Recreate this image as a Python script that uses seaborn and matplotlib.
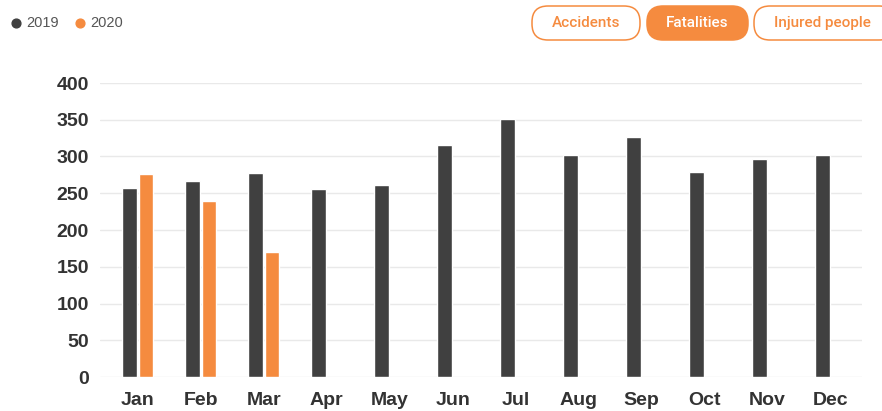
import matplotlib
matplotlib.use('Agg')
import matplotlib.pyplot as plt
from matplotlib.patches import FancyBboxPatch
import seaborn as sns
import pandas as pd

months = ['Jan', 'Feb', 'Mar', 'Apr', 'May', 'Jun', 'Jul', 'Aug', 'Sep', 'Oct', 'Nov', 'Dec']
fatalities_2019 = [257, 267, 278, 256, 261, 316, 351, 302, 327, 279, 296, 302]
fatalities_2020 = [276, 239, 170]
years = ['2019', '2020']
colors = ['#404040', '#F58B3F']
buttons = ['Accidents', 'Fatalities', 'Injured people']

rows = [(m, '2019', v) for m, v in zip(months, fatalities_2019)]
rows += [(m, '2020', v) for m, v in zip(months, fatalities_2020)]
df = pd.DataFrame(rows, columns=['month', 'year', 'value'])

sns.set_style('white')
plt.rcParams['font.family'] = ['Liberation Sans', 'DejaVu Sans']

fig = plt.figure(figsize=(8.82, 4.11), dpi=100)
ax = fig.add_axes([100 / 882, 34 / 411, 762 / 882, 294 / 411])

sns.barplot(data=df, x='month', y='value', hue='year', order=months, hue_order=years,
            palette=colors, width=0.52, gap=0.1, saturation=1, legend=False, ax=ax)

ax.set_ylim(0, 400)
ax.set_yticks(range(0, 401, 50))
ax.set_xlim(-0.6, 11.5)
ax.grid(axis='y', color='#e9e9e9', linewidth=1)
ax.set_axisbelow(True)
sns.despine(ax=ax, left=True, bottom=True)
ax.set_xlabel('')
ax.set_ylabel('')
ax.tick_params(axis='both', length=0, labelsize=14, labelcolor='#333333')
ax.tick_params(axis='x', pad=11)
ax.tick_params(axis='y', pad=8)
for t in ax.get_xticklabels() + ax.get_yticklabels():
    t.set_fontweight('bold')

# overlay in pixel coordinates for the header (legend + buttons)
top = fig.add_axes([0, 0, 1, 1], zorder=5)
top.set_xlim(0, 882)
top.set_ylim(411, 0)
top.axis('off')

x = 16
for year, c in zip(years, colors):
    top.scatter([x], [23], s=40, color=c)
    top.text(x + 10, 23, year, color='#555555', fontsize=10.5, va='center')
    x += 64

btn_boxes = [(532, 640), (647, 748), (754, 895)]
for label, (x0, x1) in zip(buttons, btn_boxes):
    active = label == 'Fatalities'
    box = FancyBboxPatch((x0, 6), x1 - x0, 34, boxstyle='round,pad=0,rounding_size=16',
                         facecolor='#F58B3F' if active else 'white', edgecolor='#F58B3F',
                         linewidth=1.1, clip_on=False)
    top.add_patch(box)
    cx = (x0 + x1) / 2 if x1 < 882 else 822
    top.text(cx, 23, label, color='white' if active else '#F58B3F', fontsize=11,
             family=['Roboto', 'DejaVu Sans'], fontweight='medium', ha='center', va='center')

fig.savefig('out.png', dpi=100)
